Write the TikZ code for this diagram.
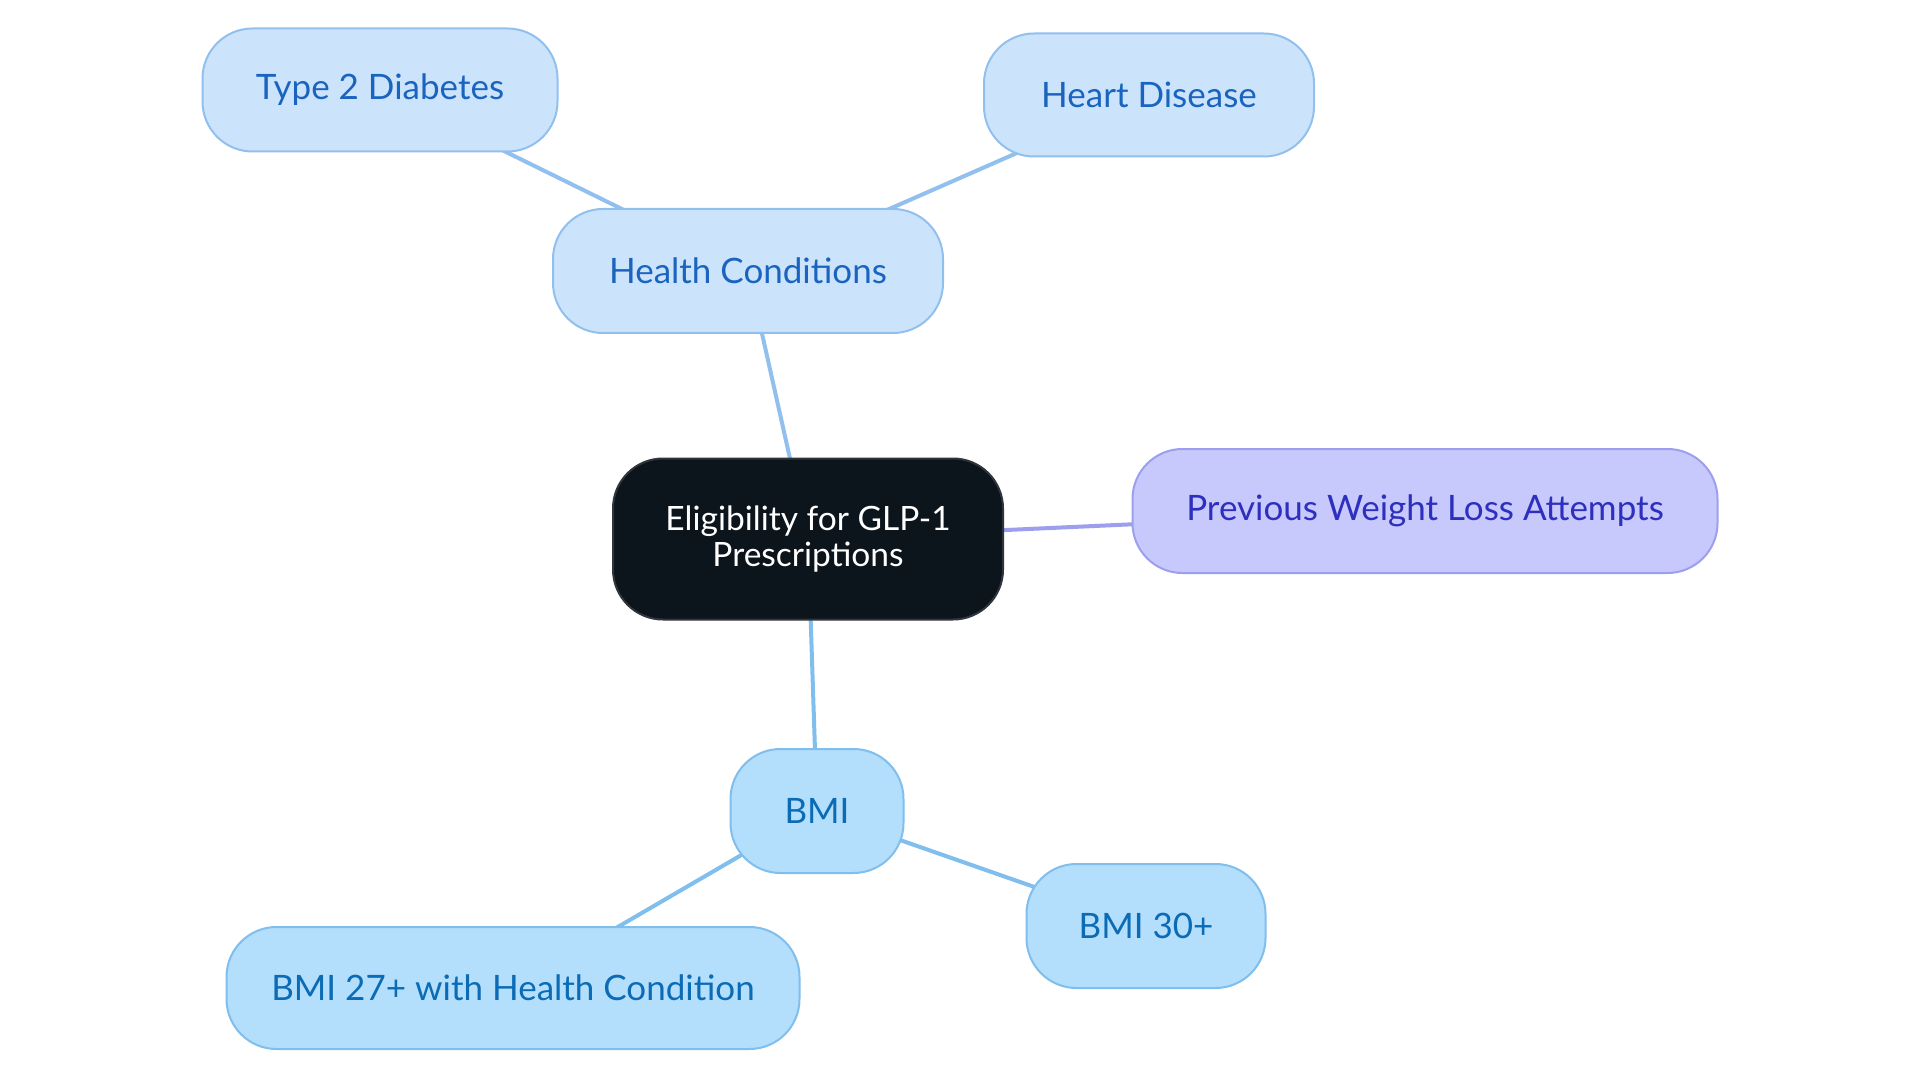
\documentclass[tikz,border=0pt]{standalone}
\usepackage{fontspec}
\setmainfont{Lato}
\usetikzlibrary{backgrounds}
\definecolor{hcfill}{HTML}{CCE4FB}
\definecolor{hcdraw}{HTML}{92C0EE}
\definecolor{hctext}{HTML}{1A64C0}
\definecolor{pwfill}{HTML}{C7C9FC}
\definecolor{pwdraw}{HTML}{9C9FEE}
\definecolor{pwtext}{HTML}{2E2FBE}
\definecolor{bmfill}{HTML}{B3DEFC}
\definecolor{bmdraw}{HTML}{80BEEE}
\definecolor{bmtext}{HTML}{0B6BB5}
\definecolor{ctfill}{HTML}{0C141C}
\definecolor{ctdraw}{HTML}{30353B}
\tikzset{
  box/.style={rounded corners=50, line width=2, inner sep=0, align=center,
    font=\fontsize{35}{40}\selectfont},
  hcbox/.style={box, fill=hcfill, draw=hcdraw, text=hctext},
  pwbox/.style={box, fill=pwfill, draw=pwdraw, text=pwtext},
  bmbox/.style={box, fill=bmfill, draw=bmdraw, text=bmtext},
  ctbox/.style={box, fill=ctfill, draw=ctdraw, text=white, font=\fontsize{33.5}{36}\selectfont},
  hcline/.style={draw=hcdraw, line width=4},
  pwline/.style={draw=pwdraw, line width=4},
  bmline/.style={draw=bmdraw, line width=4},
}
\begin{document}
\begin{tikzpicture}[x=1pt,y=-1pt]
\useasboundingbox (0,0) rectangle (1920,1083);
\node[ctbox, minimum width=390, minimum height=161] (c) at (808,539) {Eligibility for GLP-1\\Prescriptions};
\node[hcbox, minimum width=390, minimum height=124] (hc) at (748,271) {Health Conditions};
\node[hcbox, minimum width=355, minimum height=123] (t2) at (380,90) {Type 2 Diabetes};
\node[hcbox, minimum width=330, minimum height=123] (hd) at (1149,95) {Heart Disease};
\node[pwbox, minimum width=585, minimum height=124] (pw) at (1425,511) {Previous Weight Loss Attempts};
\node[bmbox, minimum width=173, minimum height=124] (bmi) at (817,811) {BMI};
\node[bmbox, minimum width=239, minimum height=124] (b30) at (1146,926) {BMI 30+};
\node[bmbox, minimum width=573, minimum height=122] (b27) at (513,988) {BMI 27+ with Health Condition};
\begin{scope}[on background layer]
\fill[white] (0,0) rectangle (1920,1083);
\draw[hcline] (c.center) -- (hc.center);
\draw[hcline] (hc.center) -- (t2.center);
\draw[hcline] (hc.center) -- (hd.center);
\draw[pwline] (c.center) -- (pw.center);
\draw[bmline] (c.center) -- (bmi.center);
\draw[bmline] (bmi.center) -- (b30.center);
\draw[bmline] (bmi.center) -- (b27.center);
\end{scope}
\end{tikzpicture}
\end{document}
